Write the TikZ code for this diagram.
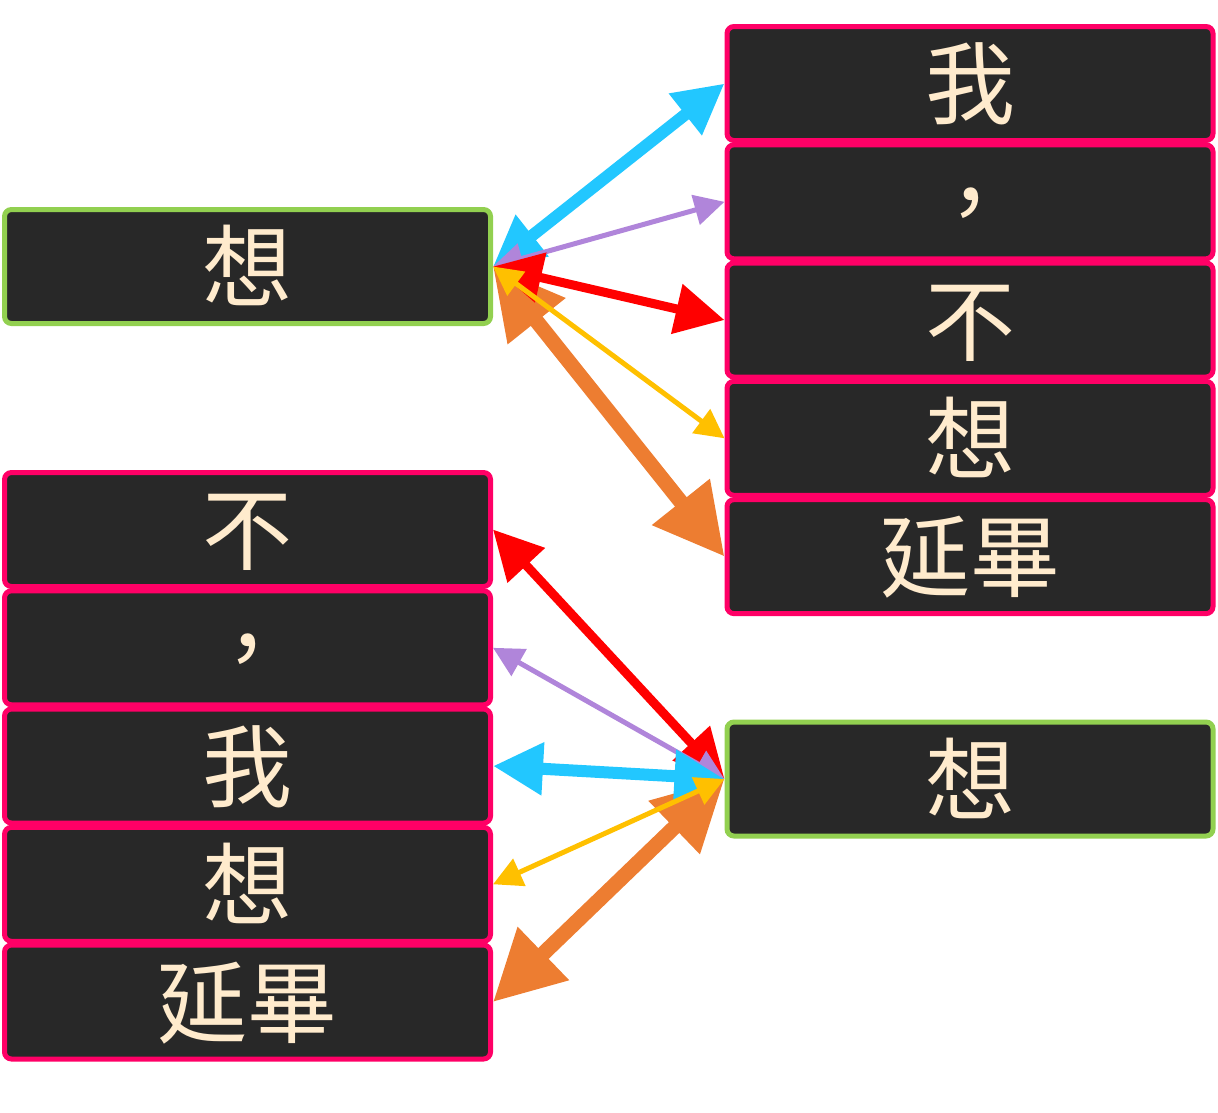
\documentclass[tikz,border=0pt]{standalone}
\usepackage{fontspec}
\newfontfamily\cjk{Noto Sans CJK TC}
\usetikzlibrary{arrows.meta}
\definecolor{boxfill}{HTML}{282828}
\definecolor{glyph}{HTML}{FFEBCD}
\definecolor{headline}{HTML}{92D050}
\definecolor{tokline}{HTML}{FF0066}
\definecolor{lkcyan}{HTML}{22C7FF}
\definecolor{lkpurple}{HTML}{B085DA}
\definecolor{lkred}{HTML}{FF0000}
\definecolor{lkorange}{HTML}{ED7D31}
\definecolor{lkyellow}{HTML}{FFC000}
\begin{document}
\begin{tikzpicture}[x=1pt,y=-1pt,
  tok/.style={draw=tokline, line width=5pt, rounded corners=7pt, fill=boxfill,
    minimum width=486pt, minimum height=114pt, inner sep=0pt, text=glyph,
    font=\cjk\fontsize{90pt}{90pt}\selectfont, text height=79pt, text depth=11pt},
  query/.style={tok, draw=headline},
  lk/.style n args={3}{draw=#1, line width=#2pt,
    arrows={Triangle[length=#3pt,width=#3pt]-Triangle[length=#3pt,width=#3pt]}}]
\useasboundingbox (0,0) rectangle (1218,1112);

% upper group: query on the left, keys on the right
\node[query] (q1) at (247.5,266.5) {想};
\node[tok] (r1) at (970,83.5) {我};
\node[tok] (r2) at (970,201.8) {，};
\node[tok] (r3) at (970,320) {不};
\node[tok] (r4) at (970,438.3) {想};
\node[tok] (r5) at (970,556.6) {延畢};

% lower group: keys on the left, query on the right
\node[query] (q2) at (970,779) {想};
\node[tok] (l1) at (247.5,529.5) {不};
\node[tok] (l2) at (247.5,647.8) {，};
\node[tok] (l3) at (247.5,766) {我};
\node[tok] (l4) at (247.5,884.3) {想};
\node[tok] (l5) at (247.5,1002) {延畢};

% upper links
\draw[lk={lkorange}{15}{70}] (q1.east) -- (r5.west);
\draw[lk={lkcyan}{12}{50}] (q1.east) -- (r1.west);
\draw[lk={lkpurple}{5}{30}] (q1.east) -- (r2.west);
\draw[lk={lkred}{9}{49}] (q1.east) -- (r3.west);
\draw[lk={lkyellow}{5}{29}] (q1.east) -- (r4.west);

% lower links
\draw[lk={lkred}{9}{49}] (q2.west) -- (l1.east);
\draw[lk={lkpurple}{5}{30}] (q2.west) -- (l2.east);
\draw[lk={lkorange}{15}{70}] (q2.west) -- (l5.east);
\draw[lk={lkcyan}{12}{50}] (q2.west) -- (l3.east);
\draw[lk={lkyellow}{5}{29}] (q2.west) -- (l4.east);
\end{tikzpicture}
\end{document}
